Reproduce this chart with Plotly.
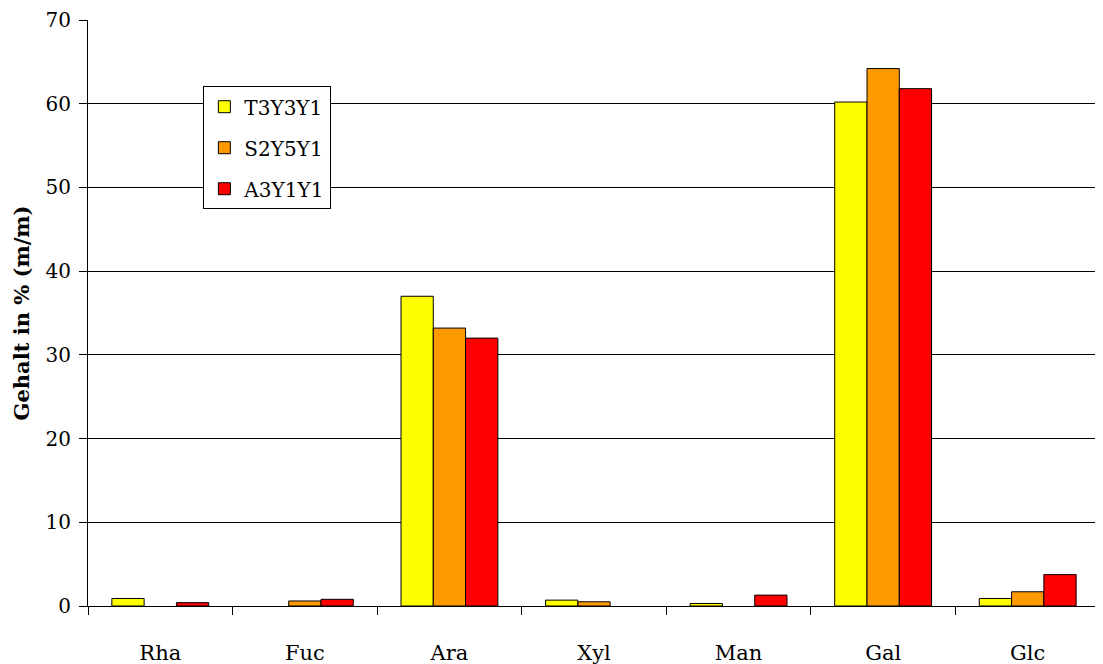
import plotly.graph_objects as go

categories = ["Rha", "Fuc", "Ara", "Xyl", "Man", "Gal", "Glc"]
series_names = ["T3Y3Y1", "S2Y5Y1", "A3Y1Y1"]
t3y3y1 = [0.9, None, 37.0, 0.7, 0.3, 60.2, 0.9]
s2y5y1 = [None, 0.6, 33.2, 0.5, None, 64.2, 1.7]
a3y1y1 = [0.4, 0.8, 32.0, None, 1.3, 61.8, 3.75]
colors = ["#FFFF00", "#FF9900", "#FF0000"]

font = "DejaVu Serif"

fig = go.Figure()
for name, vals, col in zip(series_names, [t3y3y1, s2y5y1, a3y1y1], colors):
    fig.add_trace(go.Bar(
        x=categories, y=vals, name=name, legendgroup=name,
        marker=dict(color=col, line=dict(color="black", width=1)),
    ))

fig.update_layout(
    width=1095, height=656,
    margin=dict(l=80, r=3, t=12, b=58),
    paper_bgcolor="white", plot_bgcolor="white",
    font=dict(family=font, size=20, color="black"),
    barmode="group", bargap=0.33, bargroupgap=0,
    showlegend=True,
    legend=dict(
        x=0.114, y=0.887, xanchor="left", yanchor="top",
        bgcolor="white", bordercolor="black", borderwidth=1,
        font=dict(family=font, size=20, color="black"), tracegroupgap=12,
    ),
    xaxis=dict(
        showline=True, linecolor="black", linewidth=1,
        ticks="outside", tickson="boundaries", ticklen=8, tickcolor="black",
        showgrid=False, zeroline=False, ticklabelstandoff=28, automargin=False,
        tickfont=dict(size=21),
    ),
    yaxis=dict(
        range=[0, 70], dtick=10,
        showline=True, linecolor="black", linewidth=1,
        ticks="outside", ticklen=8, tickcolor="black",
        showgrid=True, gridcolor="black", gridwidth=1,
        zeroline=False, automargin=False, ticklabelstandoff=4,
        title=dict(text="<b>Gehalt in % (m/m)</b>", font=dict(family=font, size=21), standoff=10),
    ),
)

fig.write_html("out.html")
